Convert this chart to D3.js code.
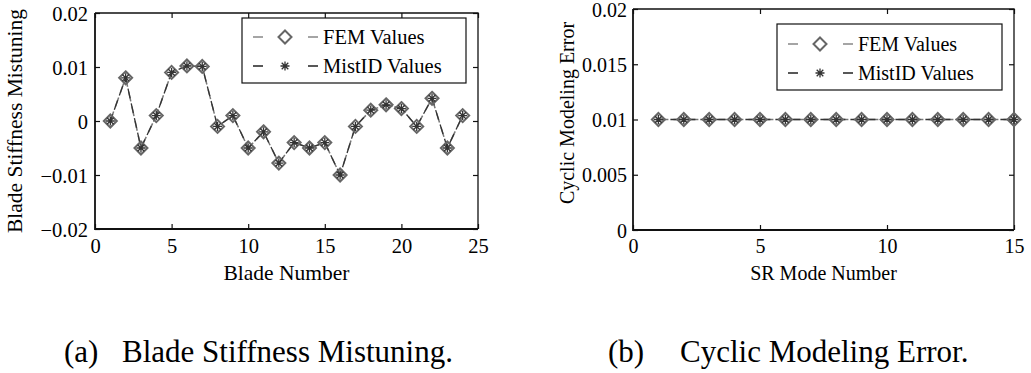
<!DOCTYPE html>
<html>
<head>
<meta charset="utf-8">
<script src="https://cdn.jsdelivr.net/npm/d3@7/dist/d3.min.js"></script>
<style>
  body { margin: 0; background: #fff; }
  text { font-family: "Liberation Serif", "DejaVu Serif", "Noto Serif", serif; fill: #000; }
</style>
</head>
<body>
<svg id="fig"></svg>
<script>
// data
const bladeNumbers = d3.range(1, 25);
const femStiffness = [0, 0.008, -0.005, 0.001, 0.009, 0.0102, 0.0101, -0.001, 0.001, -0.005,
    -0.002, -0.0078, -0.004, -0.005, -0.004, -0.01, -0.001, 0.002, 0.003, 0.0023,
    -0.001, 0.0042, -0.005, 0.001];
const mistIdStiffness = [0, 0.008, -0.005, 0.001, 0.009, 0.0102, 0.0101, -0.001, 0.001, -0.005,
    -0.002, -0.0078, -0.004, -0.005, -0.004, -0.01, -0.001, 0.002, 0.003, 0.0023,
    -0.001, 0.0042, -0.005, 0.001];
const modeNumbers = d3.range(1, 16);
const femModelError = [0.01, 0.01, 0.01, 0.01, 0.01, 0.01, 0.01, 0.01, 0.01, 0.01, 0.01, 0.01, 0.01, 0.01, 0.01];
const mistIdModelError = [0.01, 0.01, 0.01, 0.01, 0.01, 0.01, 0.01, 0.01, 0.01, 0.01, 0.01, 0.01, 0.01, 0.01, 0.01];

const xTicksA = [0, 5, 10, 15, 20, 25];
const yTicksA = [-0.02, -0.01, 0, 0.01, 0.02];
const xTicksB = [0, 5, 10, 15];
const yTicksB = [0, 0.005, 0.01, 0.015, 0.02];
const legendLabels = ["FEM Values", "MistID Values"];

// layout
const width = 1031;
const height = 373;
const serif = '"Liberation Serif", "DejaVu Serif", "Noto Serif", serif';

const svg = d3.select('#fig')
    .attr('width', width)
    .attr('height', height);

svg.append('rect').attr('width', width).attr('height', height).attr('fill', '#fff');

const fmt = d3.format('~g');

function diamond(g, cx, cy) {
    const r = 6.5;
    g.append('path')
        .attr('d', `M${cx},${cy - r}L${cx + r},${cy}L${cx},${cy + r}L${cx - r},${cy}Z`)
        .attr('fill', 'none')
        .attr('stroke', '#666')
        .attr('stroke-width', 2);
}

function asterisk(g, cx, cy) {
    const r = 4.5, d = 3.3;
    g.append('path')
        .attr('d', `M${cx - r},${cy}H${cx + r}M${cx},${cy - r}V${cy + r}` +
            `M${cx - d},${cy - d}L${cx + d},${cy + d}M${cx - d},${cy + d}L${cx + d},${cy - d}`)
        .attr('stroke', '#333')
        .attr('stroke-width', 1.3);
}

function drawPanel(p) {
    const x = d3.scaleLinear().domain(p.xDomain).range([p.left, p.right]);
    const y = d3.scaleLinear().domain(p.yDomain).range([p.bottom, p.top]);
    const g = svg.append('g').attr('font-family', serif);

    // axes with inward ticks
    const axB = g.append('g')
        .attr('transform', 'translate(0,' + p.bottom + ')')
        .call(d3.axisBottom(x).tickValues(p.xTicks).tickFormat(fmt).tickSizeInner(-5).tickSizeOuter(0).tickPadding(9));
    const axL = g.append('g')
        .attr('transform', 'translate(' + p.left + ',0)')
        .call(d3.axisLeft(y).tickValues(p.yTicks).tickFormat(fmt).tickSizeInner(-5).tickSizeOuter(0).tickPadding(p.yPad));
    const axT = g.append('g')
        .attr('transform', 'translate(0,' + p.top + ')')
        .call(d3.axisTop(x).tickValues(p.xTicks).tickFormat('').tickSizeInner(-5).tickSizeOuter(0));
    const axR = g.append('g')
        .attr('transform', 'translate(' + p.right + ',0)')
        .call(d3.axisRight(y).tickValues(p.yTicks).tickFormat('').tickSizeInner(-5).tickSizeOuter(0));
    [axB, axL, axT, axR].forEach(function(a) {
        a.attr('font-family', serif).attr('font-size', p.tickFont);
        a.select('.domain').remove();
        a.selectAll('line').attr('stroke', '#111').attr('stroke-width', 1.2);
        a.selectAll('text').attr('fill', '#000');
    });
    axL.selectAll('text').attr('dy', '0.36em');

    // frame
    g.append('path')
        .attr('d', `M${p.left},${p.top}H${p.right}V${p.bottom}`)
        .attr('fill', 'none').attr('stroke', '#111').attr('stroke-width', 1.3);
    g.append('path')
        .attr('d', `M${p.left},${p.top}V${p.bottom}H${p.right}`)
        .attr('fill', 'none').attr('stroke', '#111').attr('stroke-width', 1.8);

    // axis labels
    g.append('text')
        .attr('x', (p.left + p.right) / 2)
        .attr('y', 280)
        .attr('text-anchor', 'middle')
        .attr('font-size', p.labelFont)
        .text(p.xLabel);
    g.append('text')
        .attr('transform', 'translate(' + p.yLabelX + ',' + p.yLabelY + ')rotate(-90)')
        .attr('text-anchor', 'middle')
        .attr('font-size', p.labelFont)
        .text(p.yLabel);

    // series lines
    const line = d3.line().x(d => x(d[0])).y(d => y(d[1]));
    g.append('path')
        .datum(p.xs.map((v, i) => [v, p.fem[i]]))
        .attr('d', line)
        .attr('fill', 'none').attr('stroke', '#777').attr('stroke-width', 1.5)
        .attr('stroke-dasharray', '10,5');
    g.append('path')
        .datum(p.xs.map((v, i) => [v, p.mist[i]]))
        .attr('d', line)
        .attr('fill', 'none').attr('stroke', '#333').attr('stroke-width', 1.3)
        .attr('stroke-dasharray', '10,5').attr('stroke-dashoffset', 3);

    // markers
    p.xs.forEach(function(v, i) {
        diamond(g, x(v), y(p.fem[i]));
        asterisk(g, x(v), y(p.mist[i]));
    });

    // legend
    const lg = p.legend;
    g.append('rect')
        .attr('x', lg.x).attr('y', lg.y).attr('width', lg.w).attr('height', lg.h)
        .attr('fill', '#fff').attr('stroke', '#111').attr('stroke-width', 1.2);
    legendLabels.forEach(function(lab, i) {
        const base = lg.y + lg.rows[i];
        const cy = base - 7;
        g.append('line')
            .attr('x1', lg.x + 11).attr('x2', lg.x + 76).attr('y1', cy).attr('y2', cy)
            .attr('stroke', i === 0 ? '#888' : '#222').attr('stroke-width', 1.6)
            .attr('stroke-dasharray', '10,45,10');
        if (i === 0) diamond(g, lg.x + 43, cy);
        else asterisk(g, lg.x + 43, cy);
        g.append('text')
            .attr('x', lg.x + 81).attr('y', base)
            .attr('font-size', p.tickFont)
            .text(lab);
    });

    // caption
    g.append('text')
        .attr('x', p.capTagX).attr('y', 362)
        .attr('font-size', 31)
        .text(p.captionTag);
    g.append('text')
        .attr('x', p.capX).attr('y', 362)
        .attr('font-size', 31)
        .text(p.caption);
}

drawPanel({
    left: 95, right: 478, top: 13, bottom: 229,
    xDomain: [0, 25], yDomain: [-0.02, 0.02],
    xTicks: xTicksA, yTicks: yTicksA, yPad: 7,
    tickFont: 20.5, labelFont: 21.5,
    xs: bladeNumbers, fem: femStiffness, mist: mistIdStiffness,
    xLabel: 'Blade Number', yLabel: 'Blade Stiffness Mistuning',
    yLabelX: 22, yLabelY: 121,
    legend: {x: 242, y: 18, w: 224, h: 65, rows: [26, 55]},
    captionTag: '(a)', capTagX: 64,
    caption: 'Blade Stiffness Mistuning.', capX: 122
});

drawPanel({
    left: 633, right: 1014, top: 9, bottom: 230,
    xDomain: [0, 15], yDomain: [0, 0.02],
    xTicks: xTicksB, yTicks: yTicksB, yPad: 6,
    tickFont: 20, labelFont: 20,
    xs: modeNumbers, fem: femModelError, mist: mistIdModelError,
    xLabel: 'SR Mode Number', yLabel: 'Cyclic Modeling Error',
    yLabelX: 574, yLabelY: 113,
    legend: {x: 777, y: 24, w: 225, h: 66, rows: [27, 56]},
    captionTag: '(b)', capTagX: 608,
    caption: 'Cyclic Modeling Error.', capX: 680
});
</script>
</body>
</html>
